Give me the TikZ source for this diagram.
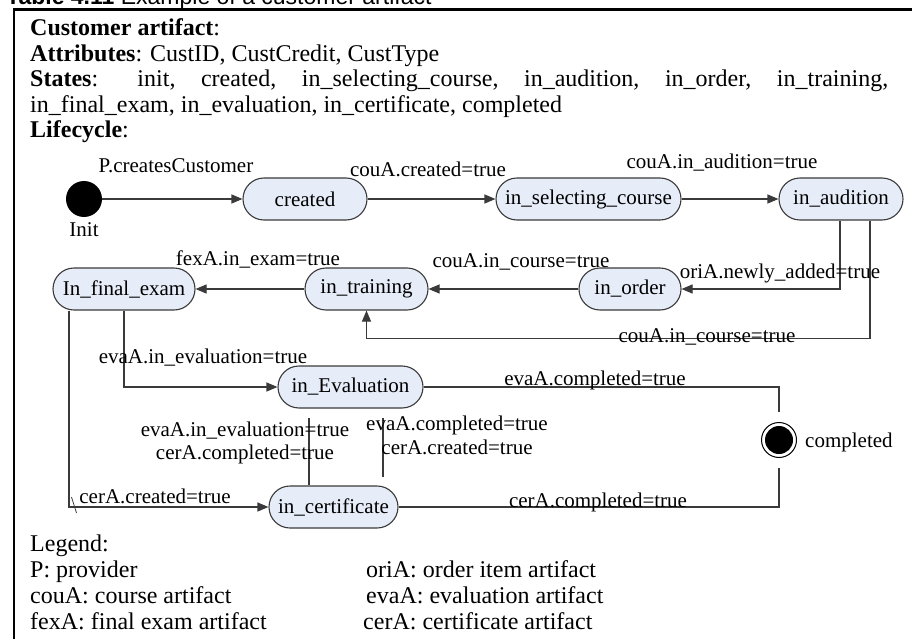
\documentclass[tikz,border=0pt]{standalone}
\usepackage{fontspec}
\setmainfont{Liberation Serif}
\newfontfamily\capfont{Liberation Sans}
\usetikzlibrary{arrows.meta}
\definecolor{stfill}{HTML}{E6EDF8}
\definecolor{ln}{HTML}{3A3A3A}
\begin{document}
\begin{tikzpicture}[x=1pt,y=-1pt,
  st/.style={draw=ln, fill=stfill, line width=1.1pt, rounded corners=21pt, minimum height=42pt, inner xsep=4pt, inner ysep=0pt, font=\fontsize{21}{24}\selectfont},
  lbl/.style={font=\fontsize{21}{24}\selectfont, inner sep=0pt, anchor=base},
  hd/.style={font=\fontsize{24}{26}\selectfont, inner sep=0pt, anchor=base west},
  con/.style={draw=ln, line width=1.1pt},
  arr/.style={con, -{Triangle[length=11pt,width=9pt]}},
]
\useasboundingbox (0,0) rectangle (912,639);
\clip (0,0) rectangle (912,639);
% caption (cut off at the top)
\node[font=\capfont\fontsize{23}{26}\selectfont, anchor=base west, inner sep=0pt] (cap) at (6,4.5) {\textbf{Table 4.11} Example of a customer artifact};
% table border
\draw[line width=2.4pt] (14,660) -- (14,9.5) -- (930,9.5);
% header text
\node[hd] (h1) at (30,36) {\textbf{Customer artifact}:};
\node[hd] (h2) at (30,61.5) {\textbf{Attributes}: CustID, CustCredit, CustType};
\node[hd] (h3) at (30,87) {\makebox[858pt][s]{\textbf{States}: init, created, in\_selecting\_course, in\_audition, in\_order, in\_training,}};
\node[hd] (h4) at (30,112.5) {in\_final\_exam, in\_evaluation, in\_certificate, completed};
\node[hd] (h5) at (30,138) {\textbf{Lifecycle}:};
% label that sits under a node
\node[lbl] (t5) at (521,267) {couA.in\_course=true};
% states
\node[circle, fill=black, minimum size=36pt, inner sep=0pt] (init) at (84,199) {};
\node[st, minimum width=124pt] (created) at (305,199) {created};
\node[st, minimum width=185pt] (sel) at (588.5,199) {in\_selecting\_course};
\node[st, minimum width=124pt] (aud) at (841,199) {in\_audition};
\node[st, minimum width=102pt] (order) at (630,289) {in\_order};
\node[st, minimum width=123pt] (train) at (366.5,289) {in\_training};
\node[st, minimum width=142pt] (fin) at (124,289) {In\_final\_exam};
\node[st, minimum width=145pt] (eval) at (350.5,387) {in\_Evaluation};
\node[st, minimum width=129pt] (cert) at (333.5,507) {in\_certificate};
\node[circle, draw=black, line width=1pt, minimum size=35pt, inner sep=0pt] (done) at (779,440) {};
\node[circle, fill=black, minimum size=28pt, inner sep=0pt] (doneIn) at (done.center) {};
% free ends
\coordinate (e1) at (309,418);
\coordinate (e2) at (383,418);
\coordinate (e3) at (383,477);
\coordinate (d1) at (779,412);
\coordinate (d2) at (779,468);
% connectors
\draw[arr] (init) -- (created);
\draw[arr] (created) -- (sel);
\draw[arr] (sel) -- (aud);
\draw[arr] ([xshift=-1pt]aud.south) |- (order.east);
\draw[arr] ([xshift=29pt]aud.south) -- ++(0,118) -| (train.south);
\draw[arr] (order) -- (train);
\draw[arr] (train) -- (fin);
\draw[arr] (fin.south) |- (eval.west);
\draw[arr] ([xshift=-55pt]fin.south) |- (cert.west);
\draw[con, line width=0.8pt] (71.5,497) -- (76.5,513);
\draw[con] (e1) -- (e1 |- cert.north);
\draw[con] (e2) -- (e3);
\draw[con] (eval.east) -| (d1);
\draw[con] (cert.east) -| (d2);
% labels
\node[lbl] (t1) at (176,173) {P.createsCustomer};
\node[lbl] (t0) at (84,236) {Init};
\node[lbl] (t2) at (428,177) {couA.created=true};
\node[lbl] (t3) at (722,169) {couA.in\_audition=true};
\node[lbl] (t4) at (780,278) {oriA.newly\_added=true};
\node[lbl] (t6) at (707,342) {couA.in\_course=true};
\node[lbl] (t7) at (258,265) {fexA.in\_exam=true};
\node[lbl] (t8) at (203,363) {evaA.in\_evaluation=true};
\node[lbl] (t9) at (595,385) {evaA.completed=true};
\node[lbl] (t10a) at (245,436) {evaA.in\_evaluation=true};
\node[lbl] (t10b) at (245,459) {cerA.completed=true};
\node[lbl] (t11a) at (457,430) {evaA.completed=true};
\node[lbl] (t11b) at (457,454) {cerA.created=true};
\node[lbl] (t12) at (155,503) {cerA.created=true};
\node[lbl] (t13) at (598,507) {cerA.completed=true};
\node[lbl, anchor=base west] (t14) at (805,447) {completed};
% legend
\node[hd] (lg) at (30,551) {Legend:};
\node[hd] (l1) at (30,577) {P: provider};
\node[hd] (l2) at (30,603) {couA: course artifact};
\node[hd] (l3) at (30,629) {fexA: final exam artifact};
\node[hd] (r1) at (366,577) {oriA: order item artifact};
\node[hd] (r2) at (366,603) {evaA: evaluation artifact};
\node[hd] (r3) at (363,629) {cerA: certificate artifact};
\end{tikzpicture}
\end{document}
